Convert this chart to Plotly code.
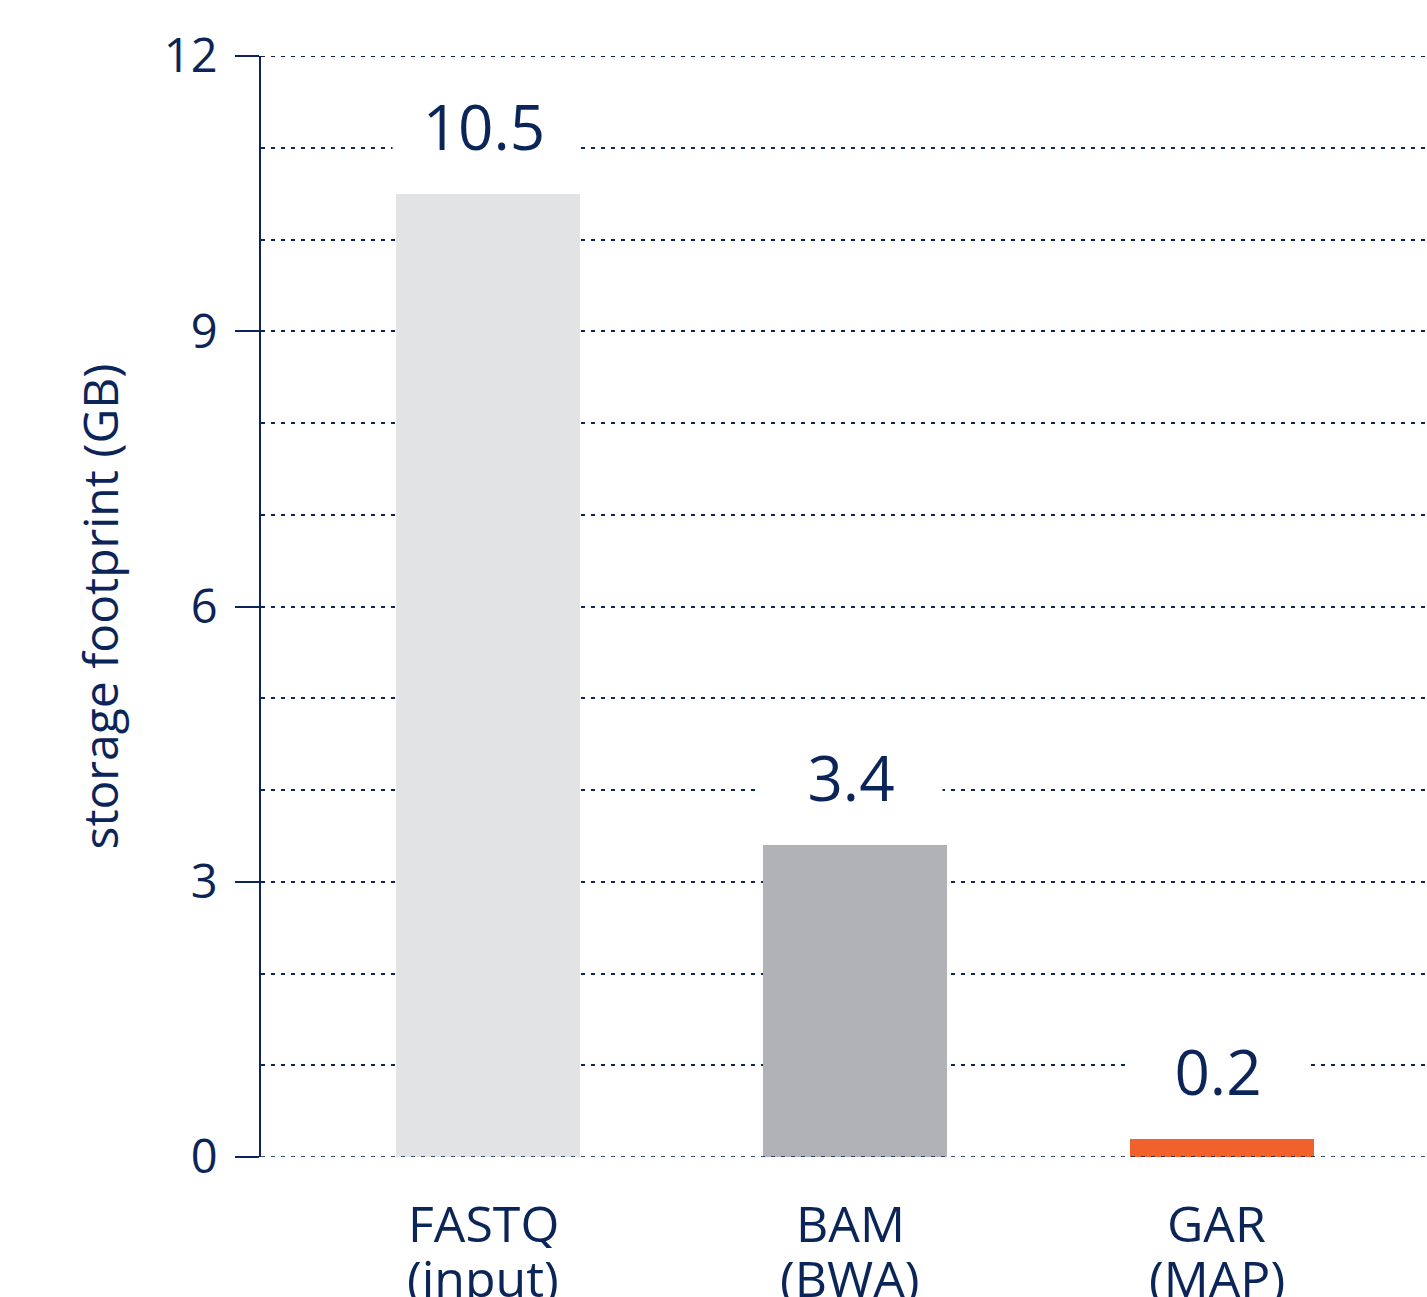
import plotly.graph_objects as go

# Storage footprint per file format
formats = ["FASTQ", "BAM", "GAR"]
sources = ["(input)", "(BWA)", "(MAP)"]
footprint_gb = [10.5, 3.4, 0.2]
value_labels = ["10.5", "3.4", "0.2"]
bar_colors = ["#e2e3e5", "#b1b2b6", "#f1612b"]
y_ticks = [0, 3, 6, 9, 12]

NAVY = "#0b2559"
FONT = "Open Sans"
DOTS = "4px,6px"
positions = list(range(len(formats)))

fig = go.Figure(
    go.Bar(
        x=positions,
        y=footprint_gb,
        width=0.5,
        marker=dict(color=bar_colors, line=dict(width=0)),
        hoverinfo="skip",
    )
)

# value labels sit in white boxes that break the dotted gridlines
for xi, v, txt in zip(positions, footprint_gb, value_labels):
    fig.add_annotation(
        x=xi, y=v, xref="x", yref="y",
        text=txt, showarrow=False,
        yanchor="bottom", yshift=30, xshift=-4,
        width=180, height=72, bgcolor="white",
        font=dict(family=FONT, size=62, color=NAVY),
    )

# two-line category labels under the bars, set tight
for xi, name, src in zip(positions, formats, sources):
    fig.add_annotation(
        x=xi, y=0, xref="x", yref="paper", text=name, showarrow=False,
        yanchor="middle", yshift=-66, xshift=-5, height=50,
        font=dict(family=FONT, size=50, color=NAVY),
    )
    fig.add_annotation(
        x=xi, y=0, xref="x", yref="paper", text=src, showarrow=False,
        yanchor="middle", yshift=-121, xshift=-5, height=50,
        font=dict(family=FONT, size=50, color=NAVY),
    )

# gridlines at the plot edges (top at 12, baseline at 0)
fig.add_shape(
    type="line", xref="paper", yref="y", x0=0, x1=1, y0=12, y1=12,
    line=dict(color=NAVY, width=2, dash=DOTS), layer="below",
)
fig.add_shape(
    type="line", xref="paper", yref="y", x0=0, x1=1, y0=0, y1=0,
    line=dict(color=NAVY, width=2, dash=DOTS), layer="above",
    opacity=0.8,
)

fig.update_layout(
    width=1427, height=1297,
    margin=dict(l=261, r=0, t=56, b=140),
    paper_bgcolor="white", plot_bgcolor="white",
    showlegend=False,
    font=dict(family=FONT, color=NAVY),
    bargap=0,
)

fig.update_xaxes(
    range=[-0.619, 2.559],
    tickvals=positions, showticklabels=False,
    ticks="", showgrid=False, zeroline=False, showline=False,
    automargin=False,
)

fig.update_yaxes(
    range=[0, 12],
    tickvals=y_ticks,
    ticks="outside", ticklen=24, tickwidth=2, tickcolor=NAVY,
    showline=True, linewidth=2, linecolor=NAVY,
    zeroline=False,
    showgrid=True, gridcolor=NAVY, gridwidth=2, griddash=DOTS,
    minor=dict(dtick=1, showgrid=True, gridcolor=NAVY, gridwidth=2,
               griddash=DOTS, ticks=""),
    tickfont=dict(family=FONT, size=47, color=NAVY),
    ticklabelstandoff=8,
    automargin=False,
    title=dict(text="storage footprint (GB)", standoff=30,
               font=dict(family=FONT, size=48, color=NAVY)),
)

fig.write_html("out.html")
